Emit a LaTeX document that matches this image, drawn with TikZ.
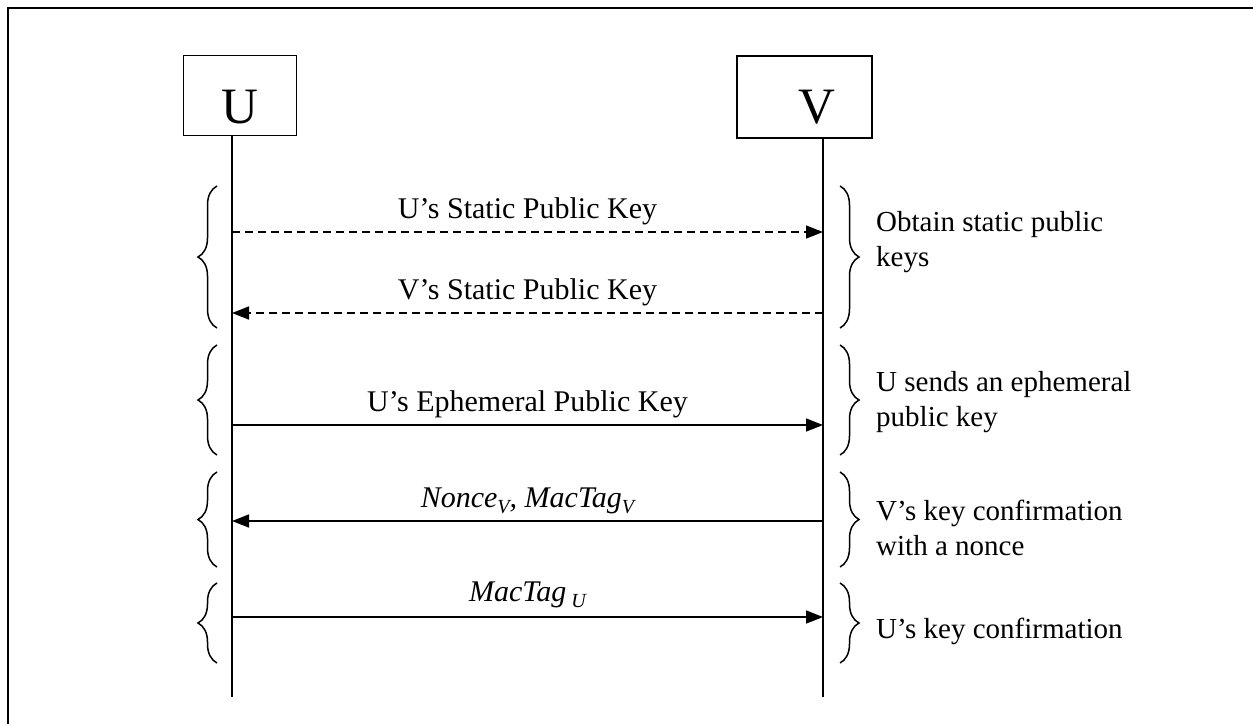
\documentclass[tikz,border=0pt]{standalone}
\usepackage{fontspec}
\setmainfont{Liberation Serif}
\usetikzlibrary{arrows.meta,decorations.pathreplacing}
\begin{document}
\begin{tikzpicture}[x=1pt,y=-1pt,
  life/.style={line width=1.6pt},
  msg/.style={line width=1.6pt,-{Triangle[length=17pt,width=13pt]}},
  dmsg/.style={msg,dash pattern=on 8pt off 5pt},
  actor/.style={draw,line width=1.6pt,inner sep=0pt,font=\fontsize{51}{51}\selectfont},
  lbl/.style={font=\fontsize{30}{34}\selectfont,anchor=base,inner sep=0pt},
  note/.style={font=\fontsize{29}{35}\selectfont,align=left,anchor=base west,inner sep=0pt},
  br/.style={decorate,decoration={brace,amplitude=19pt},line width=1.5pt}]
\useasboundingbox (0,0) rectangle (1253,724);
% frame
\draw[line width=2.8pt] (8,724) -- (8,8) -- (1253,8);
% actors
\node[actor,minimum width=113pt,minimum height=80pt,text height=55pt,text depth=0pt] (U) at (240,95.5) {U};
\node[actor,minimum width=135pt,minimum height=82pt,text height=52pt,text depth=0pt] (V) at (804.5,97) {\hspace*{25pt}V};
% lifelines
\coordinate (Ut) at (232,135.5);
\coordinate (Ub) at (232,697);
\coordinate (Vt) at (823,138);
\coordinate (Vb) at (823,697);
\draw[life] (Ut) -- (Ub);
\draw[life] (Vt) -- (Vb);
% message endpoints
\coordinate (u1) at (232,232); \coordinate (v1) at (823,232);
\coordinate (u2) at (232,313); \coordinate (v2) at (823,313);
\coordinate (u3) at (232,425); \coordinate (v3) at (823,425);
\coordinate (u4) at (232,521); \coordinate (v4) at (823,521);
\coordinate (u5) at (232,617); \coordinate (v5) at (823,617);
\draw[dmsg] (u1) -- node[lbl,yshift=14pt] (m1) {U’s Static Public Key} (v1);
\draw[dmsg] (v2) -- node[lbl,yshift=14pt] (m2) {V’s Static Public Key} (u2);
\draw[msg] (u3) -- node[lbl,yshift=14pt] (m3) {U’s Ephemeral Public Key} (v3);
\draw[msg] (v4) -- node[lbl,yshift=14pt] (m4) {\itshape Nonce\raisebox{-6pt}{\fontsize{20}{20}\selectfont V}, MacTag\raisebox{-6pt}{\fontsize{20}{20}\selectfont V}} (u4);
\draw[msg] (u5) -- node[lbl,yshift=16pt] (m5) {\itshape MacTag\,\raisebox{-6pt}{\fontsize{20}{20}\selectfont U}} (v5);
% left braces
\draw[br] (217,328) -- (217,186);
\draw[br] (217,455) -- (217,345);
\draw[br] (217,567) -- (217,472);
\draw[br] (217,663) -- (217,583);
% right braces
\draw[br] (840,186) -- (840,328);
\draw[br] (840,345) -- (840,455);
\draw[br] (840,472) -- (840,567);
\draw[br] (840,583) -- (840,663);
% notes
\node[note] (n1) at (876,266) {Obtain static public\\keys};
\node[note] (n2) at (876,426) {U sends an ephemeral\\public key};
\node[note] (n3) at (876,555) {V’s key confirmation\\with a nonce};
\node[note] (n4) at (876,638) {U’s key confirmation};
\end{tikzpicture}
\end{document}
